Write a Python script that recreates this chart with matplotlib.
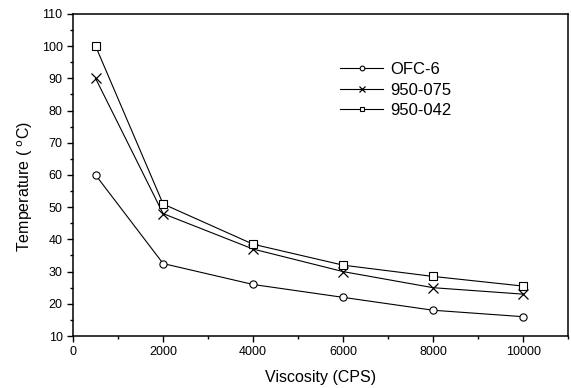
import matplotlib
matplotlib.use("Agg")
import matplotlib.pyplot as plt
from matplotlib.ticker import MultipleLocator

plt.rcParams['font.family'] = ['Liberation Sans', 'DejaVu Sans']

viscosity = [500, 2000, 4000, 6000, 8000, 10000]
ofc6 = [60, 32.5, 26, 22, 18, 16]
s950_075 = [90, 48, 37, 30, 25, 23]
s950_042 = [100, 51, 38.5, 32, 28.5, 25.5]
labels = ["OFC-6", "950-075", "950-042"]

fig = plt.figure(figsize=(5.71, 3.88), dpi=100)
ax = fig.add_axes([0.128, 0.134, 0.867, 0.830])

ax.plot(viscosity, ofc6, '-', color='black', lw=0.8, marker='o', ms=5.2,
        mfc='white', mec='black', mew=0.8, label=labels[0])
ax.plot(viscosity, s950_075, '-', color='black', lw=0.8, marker='x', ms=6.5,
        mec='black', mew=0.9, label=labels[1])
ax.plot(viscosity, s950_042, '-', color='black', lw=0.8, marker='s', ms=5.5,
        mfc='white', mec='black', mew=0.8, label=labels[2])

ax.set_xlim(0, 11000)
ax.set_ylim(10, 110)
ax.xaxis.set_major_locator(MultipleLocator(2000))
ax.xaxis.set_minor_locator(MultipleLocator(1000))
ax.yaxis.set_major_locator(MultipleLocator(10))
ax.yaxis.set_minor_locator(MultipleLocator(5))
ax.tick_params(which='both', direction='out', top=False, right=False, labelsize=9)
ax.tick_params(which='major', length=4, width=1)
ax.tick_params(which='minor', length=2.5, width=1)
for s in ax.spines.values():
    s.set_linewidth(1.1)

ax.set_xlabel("Viscosity (CPS)", fontsize=11.5, labelpad=8)
ax.set_ylabel("Temperature ( $^{\\mathrm{o}}$C)", fontsize=11.5)
ax.yaxis.set_label_coords(-0.077, 0.465)

leg = ax.legend(loc='upper left', bbox_to_anchor=(0.539, 0.85), frameon=False,
                fontsize=12, handlelength=2.6, handletextpad=0.4,
                markerscale=0.65, labelspacing=0.33, borderpad=0, borderaxespad=0)

fig.savefig("out.png", dpi=100)
